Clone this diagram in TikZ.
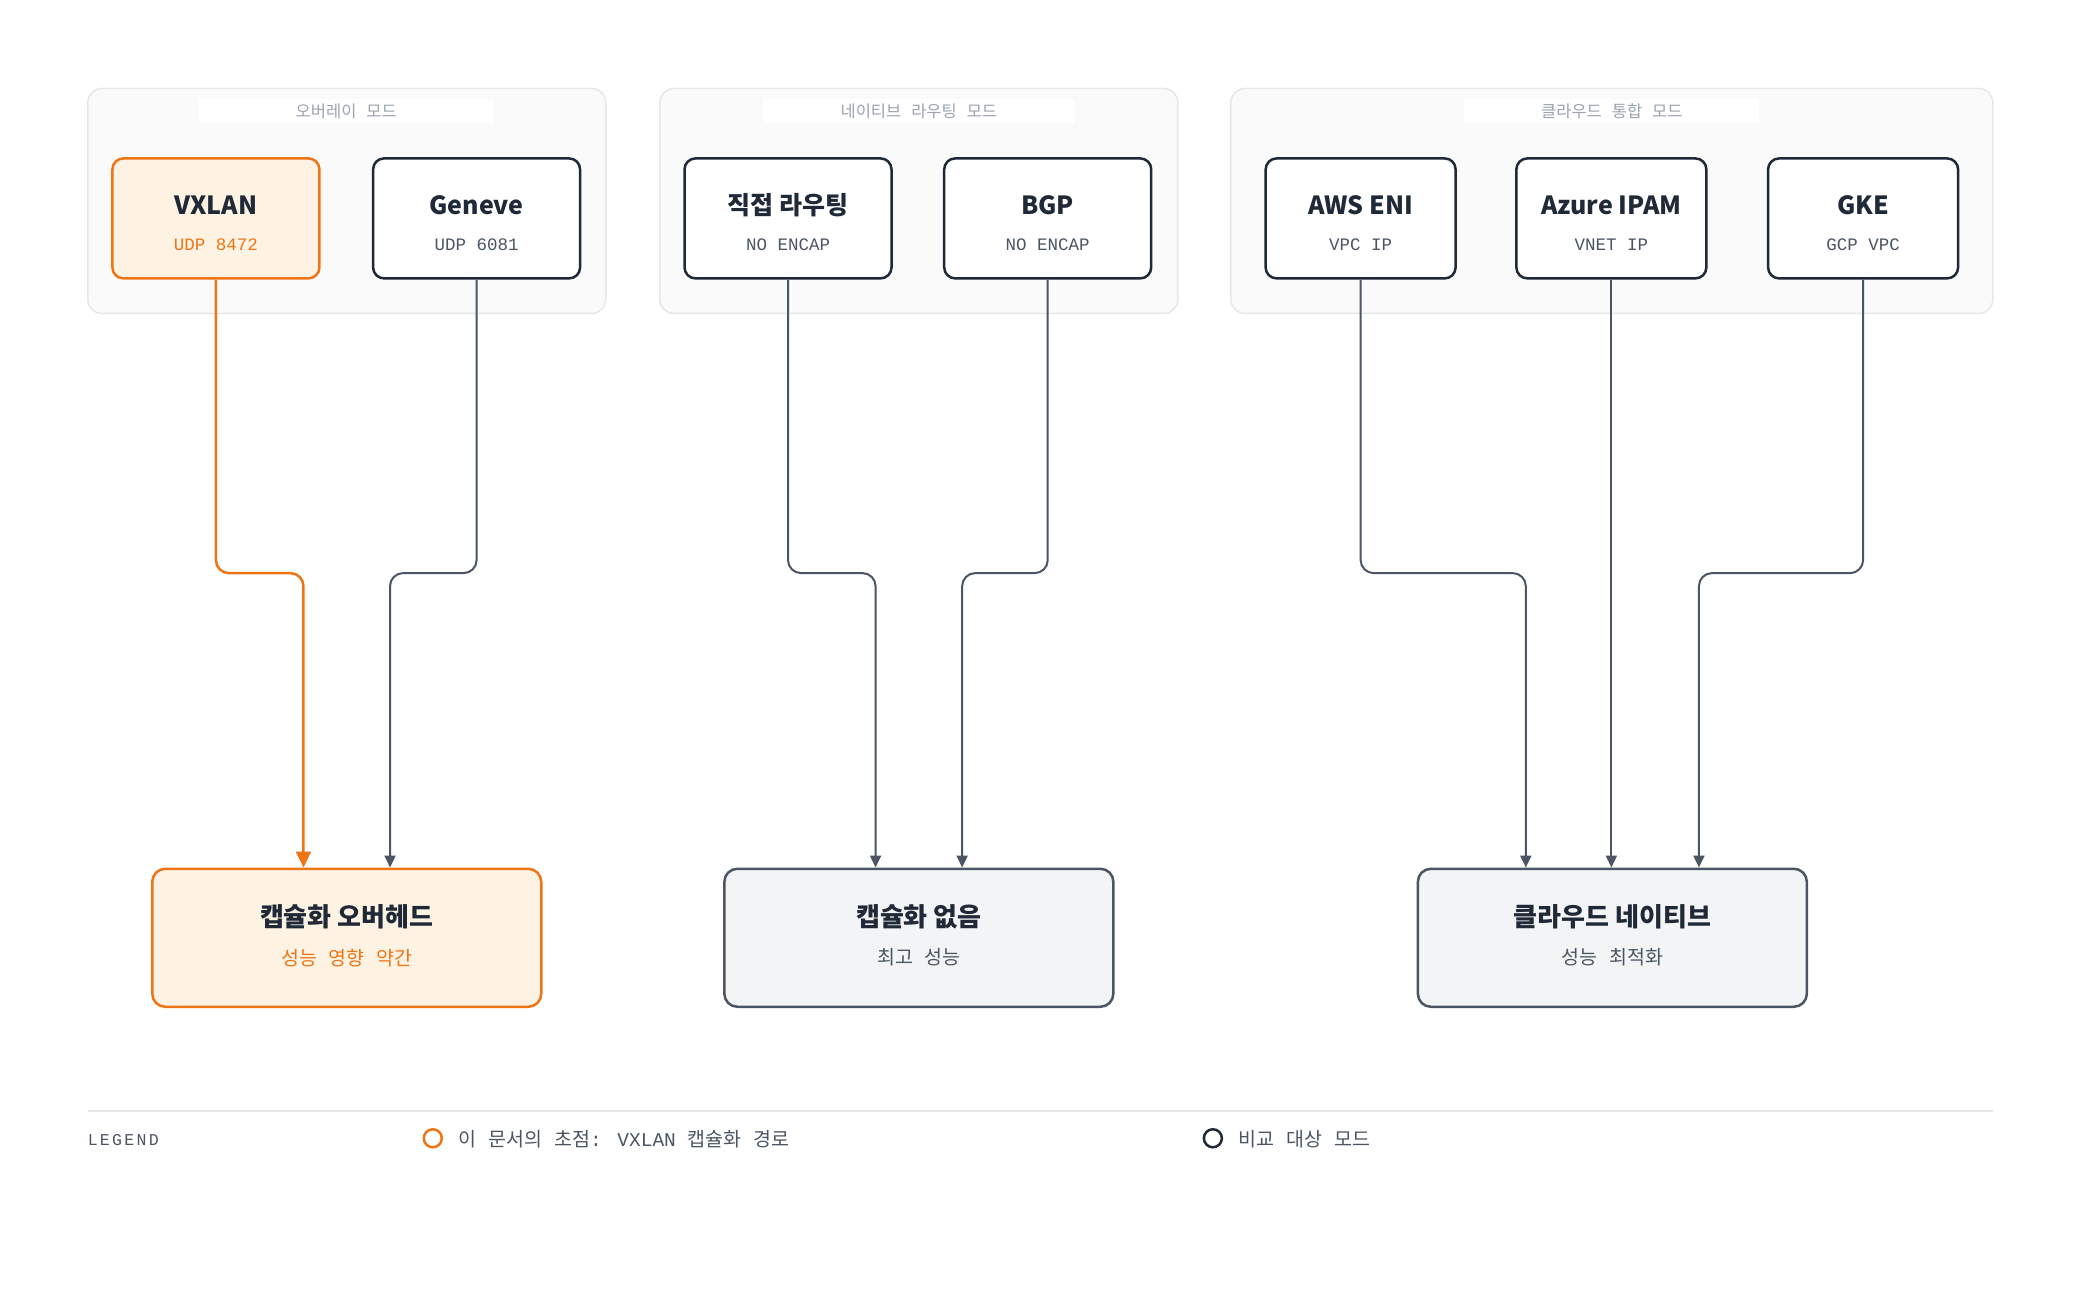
\documentclass[tikz,border=0pt]{standalone}
\usepackage{fontspec}
\setmainfont{Noto Sans CJK KR}
\newfontfamily\mono{Liberation Mono}
\newfontfamily\krw{Noto Sans CJK KR}[WordSpace=2.7]
\usetikzlibrary{arrows.meta,calc}
\definecolor{orng}{HTML}{EE7516}
\definecolor{orngfill}{HTML}{FEF3E2}
\definecolor{darkc}{HTML}{1F2937}
\definecolor{grayc}{HTML}{4B5563}
\definecolor{grayfill}{HTML}{F3F4F6}
\definecolor{framefill}{HTML}{FAFAFA}
\definecolor{frameline}{HTML}{E5E7EB}
\definecolor{labelc}{HTML}{9CA3AF}
\tikzset{
  group/.style={draw=frameline, fill=framefill, line width=1.5, rounded corners=14, minimum height=225},
  grouplabel/.style={fill=white, text=labelc, font=\krw\fontsize{16.5}{18}\selectfont, minimum height=24, inner sep=0},
  mode/.style={draw=darkc, fill=white, line width=2.5, rounded corners=11, minimum width=207, minimum height=120},
  focus/.style={mode, draw=orng, fill=orngfill},
  ttl/.style={font=\bfseries\fontsize{25}{28}\selectfont, text=darkc, inner sep=0},
  sub/.style={font=\mono\fontsize{17.5}{20}\selectfont, text=grayc, inner sep=0},
  result/.style={draw=grayc, fill=grayfill, line width=2.5, rounded corners=13, minimum width=389, minimum height=138},
  rttl/.style={font=\bfseries\fontsize{26}{30}\selectfont, text=darkc, inner sep=0},
  rsub/.style={font=\krw\fontsize{19.5}{22}\selectfont, text=grayc, inner sep=0},
  conn/.style={draw=grayc, line width=2, rounded corners=13, -{Triangle[length=12,width=11]}},
  fconn/.style={draw=orng, line width=2.5, rounded corners=13, -{Triangle[length=16,width=15]}},
  legtext/.style={font=\krw\fontsize{19.5}{22}\selectfont, text=grayc, anchor=west, inner sep=0}
}
\begin{document}
\begin{tikzpicture}[x=0.995pt,y=-0.995pt]
\useasboundingbox (0,0) rectangle (2090.5,1308.5);
% groups
\node[group, minimum width=518] (g1) at (348.5,202) {};
\node[group, minimum width=518] (g2) at (923.5,202) {};
\node[group, minimum width=762] (g3) at (1620,202) {};
\node[grouplabel, minimum width=295] (g1l) at (348,112) {오버레이 모드};
\node[grouplabel, minimum width=311] (g2l) at (923.5,112) {네이티브 라우팅 모드};
\node[grouplabel, minimum width=295] (g3l) at (1620,112) {클라우드 통합 모드};
% top nodes
\node[focus] (vx) at (217,219.5) {};
\node[ttl] (vxt) at (217,206.5) {VXLAN};
\node[sub, text=orng] (vxs) at (217,245.5) {UDP 8472};
\node[mode] (ge) at (479,219.5) {};
\node[ttl] (get) at (479,206.5) {Geneve};
\node[sub] (ges) at (479,245.5) {UDP 6081};
\node[mode] (dr) at (792,219.5) {};
\node[ttl] (drt) at (792,206.5) {직접 라우팅};
\node[sub] (drs) at (792,245.5) {NO ENCAP};
\node[mode] (bgp) at (1053,219.5) {};
\node[ttl] (bgpt) at (1053,206.5) {BGP};
\node[sub] (bgps) at (1053,245.5) {NO ENCAP};
\node[mode, minimum width=190] (aws) at (1367.5,219.5) {};
\node[ttl] (awst) at (1367.5,206.5) {AWS ENI};
\node[sub] (awss) at (1367.5,245.5) {VPC IP};
\node[mode, minimum width=190] (az) at (1619.5,219.5) {};
\node[ttl] (azt) at (1619.5,206.5) {Azure IPAM};
\node[sub] (azs) at (1619.5,245.5) {VNET IP};
\node[mode, minimum width=190] (gke) at (1872.5,219.5) {};
\node[ttl] (gket) at (1872.5,206.5) {GKE};
\node[sub] (gkes) at (1872.5,245.5) {GCP VPC};
% result nodes
\node[result, draw=orng, fill=orngfill] (r1) at (348.5,942.5) {};
\node[rttl] (r1t) at (348.5,921.5) {캡슐화 오버헤드};
\node[rsub, text=orng] (r1s) at (348.5,962.5) {성능 영향 약간};
\node[result] (r2) at (923.5,942.5) {};
\node[rttl] (r2t) at (923.5,921.5) {캡슐화 없음};
\node[rsub] (r2s) at (923.5,962.5) {최고 성능};
\node[result] (r3) at (1620.5,942.5) {};
\node[rttl] (r3t) at (1620.5,921.5) {클라우드 네이티브};
\node[rsub] (r3s) at (1620.5,962.5) {성능 최적화};
% connectors
\coordinate (mid) at (0,576);
\coordinate (e1) at ($(r1.north)+(-43.5,0)$);
\coordinate (e2) at ($(r1.north)+(43.5,0)$);
\coordinate (e3) at ($(r2.north)+(-43.5,0)$);
\coordinate (e4) at ($(r2.north)+(43.5,0)$);
\coordinate (e5) at ($(r3.north)+(-87,0)$);
\coordinate (e7) at ($(r3.north)+(87,0)$);
\draw[fconn] (vx.south) -- (vx.south |- mid) -- (e1 |- mid) -- (e1);
\draw[conn] (ge.south) -- (ge.south |- mid) -- (e2 |- mid) -- (e2);
\draw[conn] (dr.south) -- (dr.south |- mid) -- (e3 |- mid) -- (e3);
\draw[conn] (bgp.south) -- (bgp.south |- mid) -- (e4 |- mid) -- (e4);
\draw[conn] (aws.south) -- (aws.south |- mid) -- (e5 |- mid) -- (e5);
\draw[conn] (az.south) -- (az.south |- r3.north);
\draw[conn] (gke.south) -- (gke.south |- mid) -- (e7 |- mid) -- (e7);
% legend
\coordinate (la) at (88,1117);
\coordinate (lb) at (2003,1117);
\draw[frameline, line width=2] (la) -- (lb);
\node[font=\mono\fontsize{16.5}{18}\selectfont\addfontfeature{LetterSpace=14}, text=grayc, anchor=west, inner sep=0] (leg) at (88,1146) {LEGEND};
\node[circle, draw=orng, line width=2.5, fill=white, minimum size=18, inner sep=0] (lc1) at (435,1144) {};
\node[legtext] (lt1) at (461,1145) {이 문서의 초점{\mono: VXLAN} 캡슐화 경로};
\node[circle, draw=darkc, line width=2.5, fill=white, minimum size=18, inner sep=0] (lc2) at (1219,1144) {};
\node[legtext] (lt2) at (1245,1145) {비교 대상 모드};
\end{tikzpicture}
\end{document}
